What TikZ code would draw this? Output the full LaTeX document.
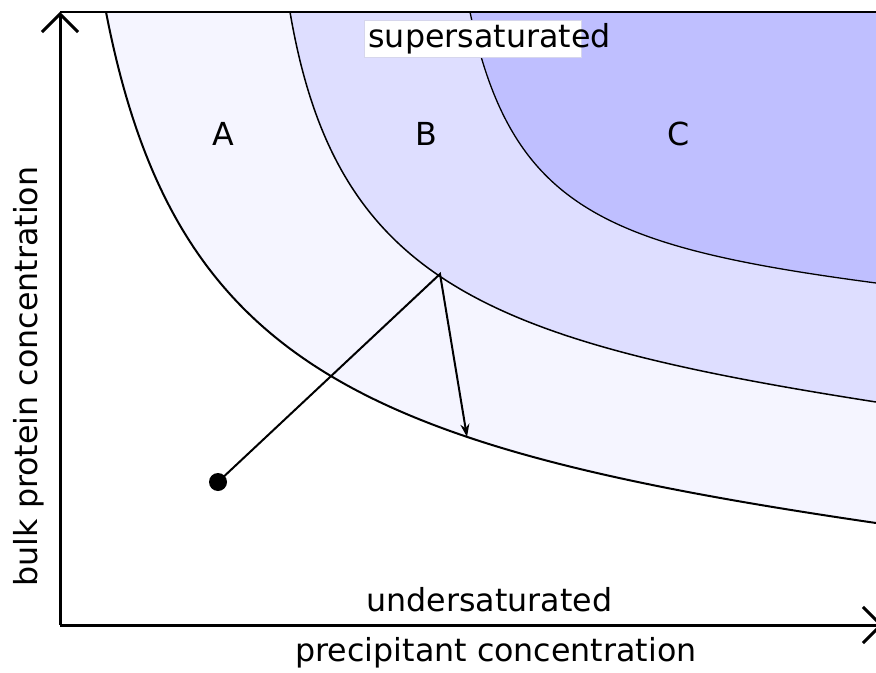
\documentclass[tikz,border=0pt]{standalone}
\usepackage{fontspec}
\setmainfont{DejaVu Sans}
\usetikzlibrary{arrows.meta}
\definecolor{ZoneA}{RGB}{245,245,255}
\definecolor{ZoneB}{RGB}{222,222,255}
\definecolor{ZoneC}{RGB}{191,191,255}
\definecolor{TagEdge}{RGB}{214,214,236}
\newcommand{\bndA}{(106,12) .. controls (174.4,364.8) and (361,447.6) .. (876,523)}
\newcommand{\bndB}{(290,12) .. controls (336,282) and (486,341) .. (876,402)}
\newcommand{\bndC}{(470,12) .. controls (511,208) and (604,247) .. (876,283)}
\tikzset{
  axis/.style={line width=1.5pt,-{Straight Barb[length=9pt,width=18pt]}},
  bnd/.style={draw=black,line width=0.75pt},
  trace/.style={line width=1pt,line join=miter,-{Stealth[length=6.5pt,width=4.5pt]}},
  lbl/.style={font=\fontsize{15.85}{19}\selectfont,inner sep=0pt},
  dot/.style={circle,fill=black,inner sep=0pt,minimum size=9pt},
  tagbox/.style={draw=TagEdge,fill=white,line width=0.5pt,inner sep=0pt},
}

\begin{document}
\begin{tikzpicture}[x=0.5pt,y=-0.5pt]
  \useasboundingbox (0,0) rectangle (876,673);
  % zones
  \fill[ZoneA] \bndA -- (876,12) -- cycle;
  \fill[ZoneB] \bndB -- (876,12) -- cycle;
  \fill[ZoneC] \bndC -- (876,12) -- cycle;
  \draw[bnd,line width=1pt] \bndA;
  \draw[bnd] \bndB;
  \draw[bnd,line width=0.65pt] \bndC;
  % axes
  \coordinate (O) at (60,625);
  \coordinate (ytop) at (60,12);
  \coordinate (xend) at (883,625);
  \draw[line width=1.2pt] (ytop) -- (876,12);
  \draw[axis] (O) -- (ytop);
  \draw[axis] (O) -- (xend);
  % labels
  \node[tagbox,minimum width=108.5pt,minimum height=18.5pt] (tag) at (472.5,39.5) {};
  \node[lbl,anchor=base west] (super) at (368,48) {supersaturated};
  \node[lbl,anchor=base] (zA) at (223,146) {A};
  \node[lbl,anchor=base] (zB) at (426.5,146) {B};
  \node[lbl,anchor=base] (zC) at (678.5,146) {C};
  \node[lbl,anchor=base] (under) at (489.5,611) {undersaturated};
  \node[lbl,anchor=base] (xlab) at (496,661) {precipitant concentration};
  \node[lbl,anchor=base,rotate=90] (ylab) at (37,376.5) {bulk protein concentration};
  % trajectory
  \node[dot] (start) at (218,482) {};
  \coordinate (knee) at (440,274);
  \coordinate (hit) at (467,437);
  \draw[trace] (start.center) -- (knee) -- (hit);
\end{tikzpicture}
\end{document}
